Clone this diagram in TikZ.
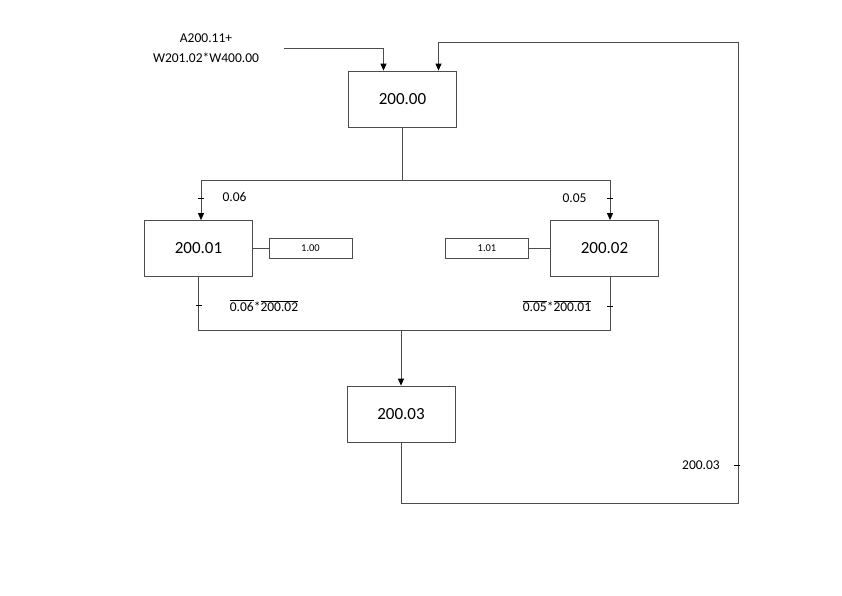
\documentclass[tikz,border=0pt]{standalone}
\usepackage{fontspec}
\setmainfont{Carlito}
\usetikzlibrary{arrows.meta}
\begin{document}
\begin{tikzpicture}[x=1pt,y=-1pt,
  blk/.style={draw=black!70, line width=0.8pt, minimum width=108pt, minimum height=56pt, font=\fontsize{17}{20}\selectfont, inner sep=0pt},
  sbox/.style={draw=black!70, line width=0.7pt, minimum width=83pt, minimum height=20pt, font=\fontsize{10.5}{12}\selectfont, inner sep=0pt},
  conn/.style={draw=black!70, line width=0.8pt},
  arr/.style={conn, -{Triangle[length=7pt,width=6pt,color=black]}},
  lbl/.style={font=\fontsize{13.5}{16}\selectfont, inner sep=0pt},
  tickmark/.style={draw=black, line width=0.8pt}]
\useasboundingbox (0,0) rectangle (842,595);
% blocks
\node[blk] (b0) at (402.5,99) {200.00};
\node[blk] (b1) at (198.5,248.5) {200.01};
\node[blk] (b2) at (604.5,248.5) {200.02};
\node[blk] (b3) at (401,414) {200.03};
\node[sbox] (s1) at (310.5,248.5) {1.00};
\node[sbox] (s2) at (487,248.5) {1.01};
% labels
\node[lbl] (tA) at (206,38) {A200.11+};
\node[lbl] (tW) at (206,58) {W201.02*W400.00};
\node[lbl] (l06) at (234.5,197) {0.06};
\node[lbl] (l05) at (574.5,198) {0.05};
\node[lbl] (lL) at (264,305.5) {$\overline{\hbox{0.06}}$*$\overline{\hbox{200.02}}$};
\node[lbl] (lR) at (557,306.5) {$\overline{\hbox{0.05}}$*$\overline{\hbox{200.01}}$};
\node[lbl] (l03) at (701,465.5) {200.03};
% coordinates
\coordinate (in0) at (284,48);
\coordinate (split) at (402.5,180);
\coordinate (join) at (401,330);
\coordinate (fbB) at (738,503);
\coordinate (fbT) at (738,42);
% connectors
\draw[arr] (in0) -| ([xshift=-19pt]b0.north);
\draw[arr] (b3.south) |- (fbB) -- (fbT) -| ([xshift=36pt]b0.north);
\draw[conn] (b0.south) -- (split);
\draw[arr] (split) -| ([xshift=2.5pt]b1.north);
\draw[arr] (split) -| ([xshift=5.5pt]b2.north);
\draw[conn] (b1.east) -- (b1.east -| s1.west);
\draw[conn] (s2.east) -- (s2.east -| b2.west);
\draw[conn] (b1.south) |- (join);
\draw[conn] ([xshift=5.5pt]b2.south) |- (join);
\draw[arr] (join) -- (b3.north);
% ticks
\draw[tickmark] (198,198) -- (204,198);
\draw[tickmark] (607,198) -- (613,198);
\draw[tickmark] (196,305) -- (201.5,305);
\draw[tickmark] (607,306) -- (613,306);
\draw[tickmark] (734,465.5) -- (740,465.5);
\end{tikzpicture}
\end{document}
